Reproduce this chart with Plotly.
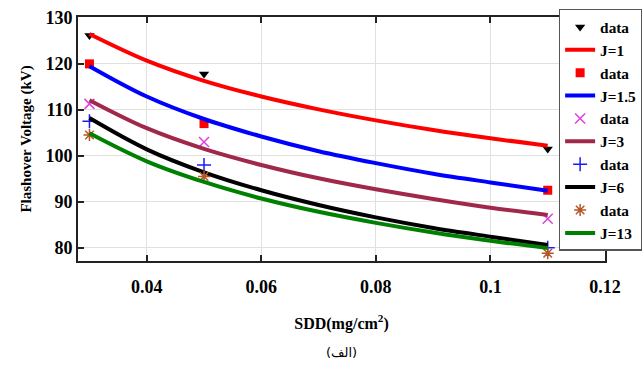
import plotly.graph_objects as go

# Measured points (SDD in mg/cm^2, flashover voltage in kV)
sdd_data = [0.03, 0.05, 0.11]
data_j1 = [126.2, 117.8, 101.5]
data_j15 = [120.0, 107.0, 92.5]
data_j3 = [111.3, 103.0, 86.3]
data_j6 = [107.5, 98.0, 80.0]
data_j13 = [104.5, 95.5, 78.8]

# Fitted curves
sdd_fit = [0.03, 0.04, 0.05, 0.06, 0.07, 0.08, 0.09, 0.10, 0.11]
fit_j1 = [126.5, 120.7, 116.3, 112.9, 110.1, 107.7, 105.6, 103.8, 102.2]
fit_j15 = [119.5, 112.9, 108.0, 104.2, 101.0, 98.4, 96.1, 94.2, 92.4]
fit_j3 = [112.1, 106.0, 101.5, 98.0, 95.1, 92.7, 90.6, 88.7, 87.1]
fit_j6 = [108.2, 101.4, 96.4, 92.5, 89.3, 86.6, 84.3, 82.4, 80.6]
fit_j13 = [104.9, 98.8, 94.3, 90.7, 87.8, 85.4, 83.3, 81.5, 79.9]

fit_names = ["J=1", "J=1.5", "J=3", "J=6", "J=13"]
x_ticks = [0.04, 0.06, 0.08, 0.1, 0.12]
x_ticktext = ["0.04", "0.06", "0.08", "0.1", "0.12"]
y_ticks = [80, 90, 100, 110, 120, 130]

series = [
    (data_j1, fit_j1, "triangle-down", "#000000", "#ff0000"),
    (data_j15, fit_j15, "square", "#ff0000", "#0000ff"),
    (data_j3, fit_j3, "x-thin-open", "#e040e0", "#a0284a"),
    (data_j6, fit_j6, "cross-thin-open", "#1a1aff", "#000000"),
    (data_j13, fit_j13, "asterisk-open", "#b5562a", "#008000"),
]

fig = go.Figure()
for (dvals, fvals, sym, mcol, lcol), name in zip(series, fit_names):
    open_sym = sym.endswith("open")
    fig.add_trace(go.Scatter(
        x=sdd_data, y=dvals, mode="markers", name="<b>data</b>",
        marker=dict(symbol=sym, size=9 if not open_sym else 10, color=mcol,
                    line=dict(color=mcol, width=1.5 if open_sym else 0)),
    ))
    fig.add_trace(go.Scatter(
        x=sdd_fit, y=fvals, mode="lines", name="<b>" + name + "</b>",
        line=dict(color=lcol, width=4, shape="spline"),
    ))

serif = "Liberation Serif"
fig.update_layout(
    width=642, height=376,
    margin=dict(l=78, r=37, t=17, b=115, autoexpand=False),
    paper_bgcolor="white", plot_bgcolor="white",
    font=dict(family=serif, color="black"),
    showlegend=True,
    legend=dict(
        x=0.912, y=1.033, xanchor="left", yanchor="top",
        bgcolor="white", bordercolor="#555555", borderwidth=1.5,
        font=dict(family=serif, size=15.3, color="black"),
        itemwidth=30, tracegroupgap=0, maxheight=340,
    ),
    xaxis=dict(
        range=[0.028, 0.12], tickvals=x_ticks, ticktext=x_ticktext,
        showgrid=True, gridcolor="#e0e0e0", gridwidth=1,
        showline=True, linecolor="#222222", linewidth=2, mirror="ticks",
        ticks="inside", ticklen=6, tickcolor="#222222", tickwidth=2,
        tickfont=dict(family=serif, size=18, weight="bold"),
        ticklabelstandoff=8,
        zeroline=False,
        title=dict(text="<b>SDD(mg/cm<sup>2</sup>)</b>", standoff=22,
                   font=dict(family=serif, size=16)),
    ),
    yaxis=dict(
        range=[77.1, 130.2], tickvals=y_ticks,
        showgrid=True, gridcolor="#e0e0e0", gridwidth=1,
        showline=True, linecolor="#222222", linewidth=2, mirror="ticks",
        ticks="inside", ticklen=6, tickcolor="#222222", tickwidth=2,
        tickfont=dict(family=serif, size=18, weight="bold"),
        zeroline=False,
        title=dict(text="<b>Flashover Voltage (kV)</b>", standoff=10,
                   font=dict(family=serif, size=15)),
    ),
    annotations=[dict(
        text="(الف)", x=0.5, xref="paper", y=0, yref="paper",
        yanchor="middle", yshift=-91,
        showarrow=False, font=dict(family="DejaVu Sans", size=13, color="black"),
    )],
)

fig.write_html("out.html")
